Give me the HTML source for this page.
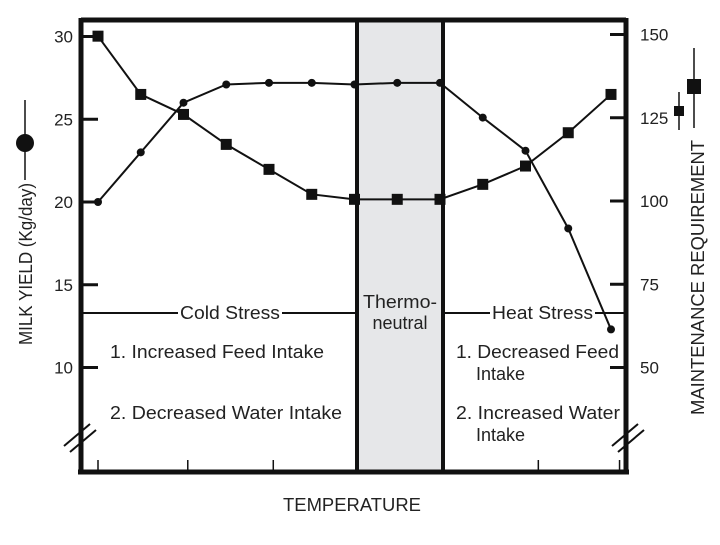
<!DOCTYPE html>
<html><head><meta charset="utf-8"><style>
body{margin:0;background:#fff;}
svg text{font-family:"Liberation Sans",sans-serif;fill:#222;}
</style></head><body>
<svg width="720" height="540" xmlns="http://www.w3.org/2000/svg">
<rect x="357" y="20" width="86" height="451" fill="#e6e7e9"/>
<g id="frame">
<line x1="81" y1="20" x2="626" y2="20" stroke="#111" stroke-width="5"/>
<line x1="81" y1="18" x2="81" y2="474" stroke="#111" stroke-width="5"/>
<line x1="626" y1="18" x2="626" y2="474" stroke="#111" stroke-width="5"/>
<line x1="78" y1="472" x2="629" y2="472" stroke="#111" stroke-width="5"/>
<line x1="357" y1="20" x2="357" y2="472" stroke="#111" stroke-width="4"/>
<line x1="443" y1="20" x2="443" y2="472" stroke="#111" stroke-width="4"/>
</g>
<g id="axes"></g>
<g id="series"></g>
<g>
<line x1="81" y1="313" x2="178" y2="313" stroke="#111" stroke-width="2"/>
<line x1="282" y1="313" x2="357" y2="313" stroke="#111" stroke-width="2"/>
<line x1="443" y1="313" x2="490" y2="313" stroke="#111" stroke-width="2"/>
<line x1="595" y1="313" x2="626" y2="313" stroke="#111" stroke-width="2"/>
</g>
<text x="180" y="319" font-size="18" textLength="100" lengthAdjust="spacingAndGlyphs">Cold Stress</text>
<text x="492" y="319" font-size="18" textLength="101" lengthAdjust="spacingAndGlyphs">Heat Stress</text>
<text x="400" y="308" font-size="18" text-anchor="middle"><tspan x="400" textLength="74" lengthAdjust="spacingAndGlyphs">Thermo-</tspan><tspan x="400" dy="21">neutral</tspan></text>
<text x="110" y="358" font-size="18" textLength="214" lengthAdjust="spacingAndGlyphs">1. Increased Feed Intake</text>
<text x="110" y="419" font-size="18" textLength="232" lengthAdjust="spacingAndGlyphs">2. Decreased Water Intake</text>
<text x="456" y="358" font-size="18"><tspan textLength="163" lengthAdjust="spacingAndGlyphs">1. Decreased Feed</tspan><tspan x="476" dy="22">Intake</tspan></text>
<text x="456" y="419" font-size="18"><tspan textLength="164" lengthAdjust="spacingAndGlyphs">2. Increased Water</tspan><tspan x="476" dy="22">Intake</tspan></text>
<g stroke="#111" stroke-width="2">
<line x1="64" y1="446" x2="90" y2="424"/><line x1="70" y1="452" x2="96" y2="430"/>
<line x1="612" y1="446" x2="638" y2="424"/><line x1="618" y1="452" x2="644" y2="430"/>
</g>
<text x="283" y="511" font-size="18" textLength="138" lengthAdjust="spacingAndGlyphs">TEMPERATURE</text>
<text transform="translate(32,345) rotate(-90)" font-size="18" textLength="162" lengthAdjust="spacingAndGlyphs">MILK YIELD (Kg/day)</text>
<g><line x1="25" y1="100" x2="25" y2="180" stroke="#111" stroke-width="1.5"/><circle cx="25" cy="143" r="9" fill="#111"/></g>
<text transform="translate(704,415) rotate(-90)" font-size="18" textLength="275" lengthAdjust="spacingAndGlyphs">MAINTENANCE REQUIREMENT</text>
<g><line x1="679" y1="92" x2="679" y2="130" stroke="#111" stroke-width="1.5"/><rect x="674" y="106" width="10" height="10" fill="#111"/><line x1="694" y1="48" x2="694" y2="128" stroke="#111" stroke-width="1.5"/><rect x="687" y="79" width="14" height="15" fill="#111"/></g>
</svg>
<script>
const temps=[0,1,2,3,4,5,6,7,8,9,10,11,12];
const milkYield=[20,23,26,27.1,27.2,27.2,27.1,27.2,27.2,25.1,23.1,18.4,12.3];
const maintenance=[149.5,132,126,117,109.5,102,100.5,100.5,100.5,105,110.5,120.5,132];
const leftTicks=[30,25,20,15,10];
const rightTicks=[150,125,100,75,50];
const bottomTicks=[0,2.1,4.1,10.3,12.2];
const NS="http://www.w3.org/2000/svg";
const xS=t=>98+t*42.75;
const yL=v=>202-(v-20)*16.55;
const yR=v=>201-(v-100)*3.33;
function mk(tag,at,parent){const e=document.createElementNS(NS,tag);for(const k in at)e.setAttribute(k,at[k]);parent.appendChild(e);return e;}
const axes=document.getElementById('axes'),series=document.getElementById('series');
leftTicks.forEach(v=>{const y=yL(v);
const l=mk('line',{x1:81,y1:y,x2:98,y2:y,stroke:'#111','stroke-width':3},axes);


const t=mk('text',{x:73,y:y+6,'font-size':17,'text-anchor':'end'},axes);t.textContent=v;

});
rightTicks.forEach(v=>{const y=yR(v);
const l=mk('line',{x1:610,y1:y,x2:626,y2:y,stroke:'#111','stroke-width':3},axes);


const t=mk('text',{x:640,y:y+6,'font-size':17},axes);t.textContent=v;

});
bottomTicks.forEach(v=>{const x=xS(v);
const l=mk('line',{x1:x,y1:460,x2:x,y2:472,stroke:'#111','stroke-width':1.5},axes);

});
const mp=mk('polyline',{points:temps.map((t,i)=>xS(t)+','+yL(milkYield[i])).join(' '),fill:'none',stroke:'#111','stroke-width':2},series);


const rp=mk('polyline',{points:temps.map((t,i)=>xS(t)+','+yR(maintenance[i])).join(' '),fill:'none',stroke:'#111','stroke-width':2},series);


temps.forEach((t,i)=>{
const c=mk('circle',{cx:xS(t),cy:yL(milkYield[i]),r:4,fill:'#111'},series);


const r=mk('rect',{x:xS(t)-5.5,y:yR(maintenance[i])-5.5,width:11,height:11,fill:'#111'},series);

});
</script>
</body></html>
